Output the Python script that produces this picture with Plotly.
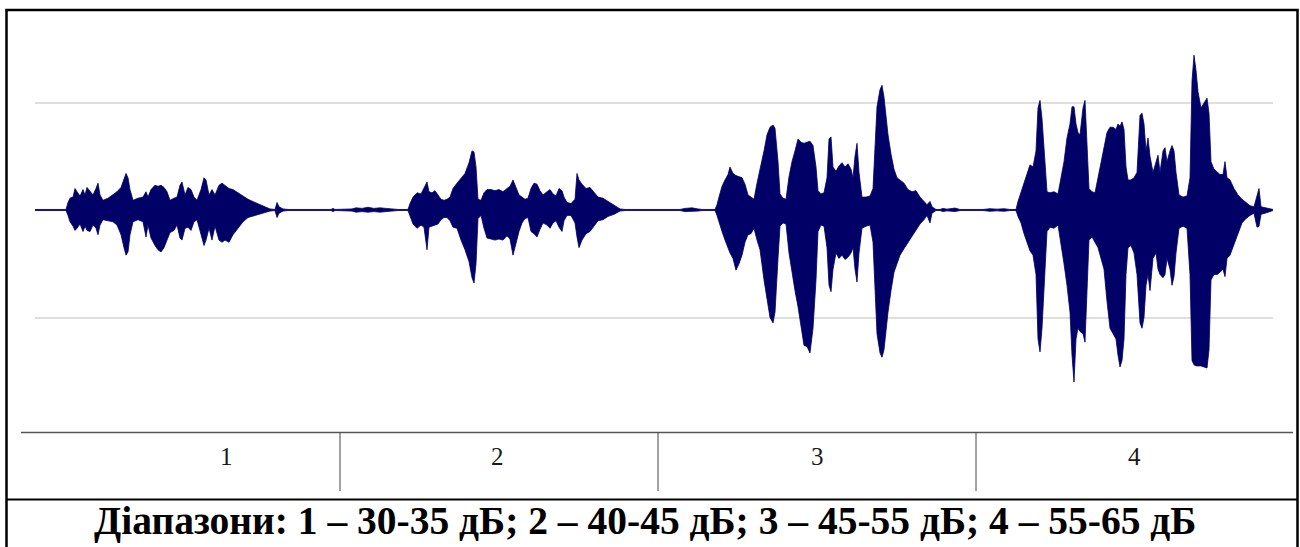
import plotly.graph_objects as go

# ---------------- data: waveform envelope (amplitude, 1.0 = grid line) ----------------
# burst 1 (range 1)
t1 = [0, 31, 33, 35, 38, 40, 42, 45, 48, 50,
      52, 55, 58, 61, 63, 65, 68, 73, 78, 82,
      86, 89, 91, 93, 95, 98, 103, 108, 111, 113,
      116, 120, 123, 126, 129, 132, 135, 139, 142, 145,
      147, 150, 153, 156, 159, 162, 166, 169, 171, 174,
      177, 180, 184, 187, 190, 194, 198, 203, 208, 213,
      220, 227, 235, 240, 242, 244, 248, 253, 296, 298,
      300, 317, 321, 327, 333, 339, 345, 351, 357, 363,
      373]
up1 = [0.005, 0.005, 0.07, 0.11, 0.12, 0.20, 0.17, 0.13, 0.19, 0.14,
       0.21, 0.17, 0.14, 0.20, 0.25, 0.14, 0.09, 0.11, 0.14, 0.17,
       0.21, 0.30, 0.34, 0.30, 0.19, 0.09, 0.11, 0.12, 0.17, 0.12,
       0.19, 0.23, 0.22, 0.23, 0.21, 0.17, 0.09, 0.11, 0.12, 0.23,
       0.26, 0.14, 0.21, 0.19, 0.12, 0.09, 0.19, 0.30, 0.28, 0.14,
       0.19, 0.14, 0.23, 0.25, 0.23, 0.20, 0.19, 0.16, 0.13, 0.10,
       0.07, 0.04, 0.01, 0.005, 0.07, 0.03, 0.01, 0.005, 0.005, 0.015,
       0.005, 0.01, 0.02, 0.015, 0.025, 0.015, 0.02, 0.015, 0.01, 0.005,
       0.005]
lo1 = [-0.005, -0.005, -0.05, -0.11, -0.15, -0.19, -0.17, -0.13, -0.20, -0.15,
       -0.19, -0.20, -0.14, -0.17, -0.23, -0.14, -0.09, -0.10, -0.11, -0.14,
       -0.23, -0.35, -0.42, -0.39, -0.23, -0.11, -0.09, -0.11, -0.25, -0.14,
       -0.26, -0.33, -0.37, -0.39, -0.35, -0.28, -0.21, -0.19, -0.14, -0.26,
       -0.28, -0.17, -0.16, -0.19, -0.11, -0.09, -0.23, -0.33, -0.28, -0.17,
       -0.28, -0.15, -0.28, -0.30, -0.28, -0.30, -0.23, -0.17, -0.11, -0.07,
       -0.05, -0.03, -0.01, -0.005, -0.07, -0.03, -0.01, -0.005, -0.005, -0.015,
       -0.005, -0.01, -0.02, -0.015, -0.02, -0.015, -0.02, -0.015, -0.01, -0.005,
       -0.005]

# burst 2 (range 2)
t2 = [375, 378, 382, 386, 389, 392, 394, 397, 400, 403,
      406, 409, 412, 415, 418, 422, 426, 430, 434, 437,
      439, 441, 443, 446, 449, 452, 456, 460, 464, 468,
      472, 475, 478, 481, 484, 487, 490, 493, 496, 499,
      502, 505, 508, 512, 515, 518, 521, 524, 527, 529,
      532, 536, 540, 542, 544, 547, 551, 555, 559, 563,
      568, 573, 579, 585, 590, 599, 602, 605, 628, 630,
      633, 645, 650, 657, 663, 667, 680]
up2 = [0.06, 0.12, 0.16, 0.15, 0.20, 0.26, 0.17, 0.16, 0.18, 0.14,
       0.10, 0.09, 0.10, 0.12, 0.20, 0.25, 0.30, 0.34, 0.44, 0.55,
       0.54, 0.40, 0.10, 0.09, 0.16, 0.19, 0.19, 0.18, 0.19, 0.17,
       0.20, 0.22, 0.28, 0.20, 0.14, 0.12, 0.10, 0.11, 0.20, 0.25,
       0.24, 0.18, 0.14, 0.17, 0.19, 0.15, 0.13, 0.20, 0.18, 0.12,
       0.07, 0.06, 0.10, 0.34, 0.28, 0.24, 0.20, 0.21, 0.17, 0.12,
       0.11, 0.08, 0.05, 0.01, 0.005, 0.005, 0.012, 0.005, 0.005, 0.012,
       0.005, 0.005, 0.015, 0.02, 0.01, 0.005, 0.005]
lo2 = [-0.05, -0.13, -0.17, -0.14, -0.16, -0.37, -0.16, -0.15, -0.14, -0.13,
       -0.09, -0.07, -0.07, -0.10, -0.16, -0.17, -0.28, -0.37, -0.48, -0.63,
       -0.68, -0.50, -0.08, -0.05, -0.17, -0.26, -0.27, -0.28, -0.27, -0.28,
       -0.24, -0.27, -0.42, -0.30, -0.20, -0.12, -0.08, -0.07, -0.20, -0.22,
       -0.25, -0.18, -0.12, -0.14, -0.17, -0.12, -0.10, -0.16, -0.20, -0.10,
       -0.05, -0.05, -0.12, -0.25, -0.35, -0.28, -0.22, -0.20, -0.15, -0.10,
       -0.09, -0.06, -0.04, -0.01, -0.005, -0.005, -0.012, -0.005, -0.005, -0.012,
       -0.005, -0.005, -0.015, -0.015, -0.01, -0.005, -0.005]

# burst 3 (range 3)
t3 = [682, 684, 687, 690, 693, 695, 698, 701, 704, 707,
      710, 713, 716, 719, 722, 725, 729, 732, 735, 738,
      740, 743, 745, 748, 751, 754, 757, 760, 763, 766,
      769, 772, 775, 778, 781, 783, 786, 789, 792, 794,
      796, 798, 801, 804, 807, 810, 813, 816, 818, 820,
      822, 824, 827, 831, 835, 838, 840, 842, 845, 847,
      849, 851, 853, 856, 859, 862, 865, 869, 873, 877,
      881, 885, 889, 892, 895, 897, 901, 905, 908, 912,
      920, 925, 948, 955, 962, 969, 975, 981]
up3 = [0.05, 0.12, 0.22, 0.28, 0.33, 0.40, 0.34, 0.32, 0.31, 0.30,
       0.24, 0.14, 0.12, 0.10, 0.25, 0.37, 0.55, 0.70, 0.77, 0.79,
       0.76, 0.45, 0.15, 0.11, 0.10, 0.31, 0.45, 0.55, 0.66, 0.63,
       0.62, 0.63, 0.64, 0.60, 0.40, 0.18, 0.15, 0.16, 0.30, 0.66,
       0.68, 0.40, 0.36, 0.41, 0.44, 0.40, 0.43, 0.38, 0.30, 0.50,
       0.62, 0.35, 0.12, 0.12, 0.13, 0.20, 0.60, 0.96, 1.12, 1.16,
       1.05, 0.85, 0.70, 0.52, 0.38, 0.30, 0.28, 0.25, 0.19, 0.17,
       0.18, 0.12, 0.08, 0.05, 0.08, 0.03, 0.005, 0.005, 0.015, 0.008,
       0.018, 0.005, 0.005, 0.012, 0.008, 0.012, 0.005, 0.005]
lo3 = [-0.05, -0.12, -0.20, -0.28, -0.35, -0.40, -0.45, -0.56, -0.50, -0.42,
       -0.30, -0.23, -0.22, -0.17, -0.28, -0.37, -0.65, -0.85, -1.00, -1.05,
       -0.95, -0.45, -0.15, -0.12, -0.13, -0.40, -0.60, -0.75, -0.90, -1.08,
       -1.26, -1.27, -1.33, -1.10, -0.65, -0.20, -0.14, -0.15, -0.35, -0.70,
       -0.76, -0.55, -0.40, -0.45, -0.42, -0.46, -0.44, -0.40, -0.35, -0.55,
       -0.67, -0.40, -0.17, -0.15, -0.14, -0.30, -0.75, -1.15, -1.33, -1.37,
       -1.30, -1.10, -0.95, -0.75, -0.58, -0.50, -0.42, -0.36, -0.30, -0.25,
       -0.18, -0.13, -0.09, -0.05, -0.12, -0.03, -0.005, -0.005, -0.015, -0.008,
       -0.015, -0.005, -0.005, -0.012, -0.008, -0.012, -0.005, -0.005]

# burst 4 (range 4)
t4 = [983, 986, 989, 992, 995, 998, 1001, 1003, 1005, 1007,
      1009, 1012, 1015, 1019, 1023, 1026, 1029, 1032, 1035, 1037,
      1039, 1041, 1043, 1045, 1048, 1050, 1052, 1054, 1057, 1060,
      1063, 1066, 1069, 1072, 1075, 1078, 1081, 1083, 1085, 1087,
      1089, 1091, 1093, 1096, 1099, 1102, 1105, 1107, 1109, 1111,
      1113, 1115, 1118, 1121, 1123, 1125, 1128, 1130, 1132, 1135,
      1137, 1139, 1141, 1144, 1148, 1152, 1155, 1157, 1159, 1161,
      1163, 1166, 1169, 1172, 1174, 1176, 1179, 1182, 1185, 1188,
      1190, 1192, 1195, 1199, 1203, 1207, 1211, 1215, 1219, 1222,
      1224, 1226, 1230, 1235, 1238]
up4 = [0.08, 0.16, 0.24, 0.33, 0.42, 0.40, 0.55, 0.95, 1.02, 0.85,
       0.55, 0.17, 0.16, 0.17, 0.15, 0.30, 0.45, 0.67, 0.80, 0.96,
       0.96, 0.80, 0.72, 0.70, 0.95, 1.02, 0.60, 0.20, 0.17, 0.16,
       0.30, 0.45, 0.60, 0.72, 0.77, 0.77, 0.75, 0.80, 0.78, 0.82,
       0.75, 0.40, 0.28, 0.28, 0.30, 0.35, 0.88, 0.90, 0.80, 0.55,
       0.67, 0.50, 0.35, 0.45, 0.51, 0.35, 0.55, 0.58, 0.45, 0.55,
       0.60, 0.55, 0.35, 0.14, 0.12, 0.13, 0.30, 1.20, 1.44, 1.30,
       1.10, 0.95, 1.00, 1.04, 0.90, 0.45, 0.38, 0.35, 0.33, 0.33,
       0.45, 0.30, 0.28, 0.20, 0.14, 0.10, 0.07, 0.04, 0.03, 0.15,
       0.20, 0.03, 0.02, 0.01, 0.005]
lo4 = [-0.06, -0.12, -0.22, -0.30, -0.38, -0.42, -0.60, -1.20, -1.32, -1.10,
       -0.70, -0.20, -0.16, -0.17, -0.14, -0.30, -0.50, -0.70, -0.95, -1.35,
       -1.60, -1.20, -1.10, -1.13, -1.15, -1.23, -0.70, -0.28, -0.25, -0.30,
       -0.35, -0.45, -0.55, -0.85, -1.10, -1.15, -1.20, -1.35, -1.46, -1.40,
       -1.20, -0.60, -0.35, -0.33, -0.40, -0.60, -1.05, -1.10, -1.00, -0.70,
       -0.60, -0.75, -0.45, -0.40, -0.55, -0.60, -0.63, -0.60, -0.45, -0.55,
       -0.70, -0.62, -0.40, -0.17, -0.15, -0.17, -0.60, -1.40, -1.44, -1.45,
       -1.45, -1.45, -1.46, -1.47, -1.30, -0.65, -0.60, -0.60, -0.58, -0.55,
       -0.62, -0.45, -0.42, -0.32, -0.22, -0.12, -0.08, -0.05, -0.03, -0.16,
       -0.15, -0.04, -0.03, -0.015, -0.005]

range_labels = ["1", "2", "3", "4"]
caption = "Діапазони: 1 – 30-35 дБ; 2 – 40-45 дБ; 3 – 45-55 дБ; 4 – 55-65 дБ"

for a, b, c in [(t1, up1, lo1), (t2, up2, lo2), (t3, up3, lo3), (t4, up4, lo4)]:
    assert len(a) == len(b) == len(c), (len(a), len(b), len(c))

t = t1 + t2 + t3 + t4
upper = up1 + up2 + up3 + up4
lower = lo1 + lo2 + lo3 + lo4

# ---------------- styling / layout ----------------
W, H = 1300, 547
WAVE = "#000066"


def px(x):
    return x / W


def py(y):
    return 1 - y / H


fig = go.Figure()
fig.add_trace(go.Scatter(x=t, y=upper, mode="lines",
                         line=dict(color=WAVE, width=0.8),
                         hoverinfo="skip", showlegend=False))
fig.add_trace(go.Scatter(x=t, y=lower, mode="lines",
                         line=dict(color=WAVE, width=0.8),
                         fill="tonexty", fillcolor=WAVE,
                         hoverinfo="skip", showlegend=False))

plot_top, plot_bot, centre, unit = 20, 420, 210, 107.5

fig.update_layout(
    width=W, height=H,
    margin=dict(l=0, r=0, t=0, b=0),
    paper_bgcolor="white", plot_bgcolor="white",
    showlegend=False,
    xaxis=dict(domain=[px(35), px(1273)], range=[0, 1238],
               showgrid=False, zeroline=False, showline=False,
               showticklabels=False, ticks=""),
    yaxis=dict(domain=[py(plot_bot), py(plot_top)],
               range=[-(plot_bot - centre) / unit, (centre - plot_top) / unit],
               tickvals=[-1, 0, 1], showgrid=True, gridcolor="#dedede",
               gridwidth=2, zeroline=False, showline=False,
               showticklabels=False, ticks=""),
)

shapes = []
# outer frame
shapes.append(dict(type="rect", xref="paper", yref="paper",
                   x0=px(6.5), x1=px(1297.5), y0=py(560), y1=py(10),
                   line=dict(color="black", width=2.5), fillcolor="rgba(0,0,0,0)",
                   layer="above"))
# caption separator
shapes.append(dict(type="line", xref="paper", yref="paper",
                   x0=px(6.5), x1=px(1297.5), y0=py(499.5), y1=py(499.5),
                   line=dict(color="black", width=2)))
# table header line
shapes.append(dict(type="line", xref="paper", yref="paper",
                   x0=px(21), x1=px(1293), y0=py(432.5), y1=py(432.5),
                   line=dict(color="#555555", width=1.3)))
for xv in [340, 658, 976]:
    shapes.append(dict(type="line", xref="paper", yref="paper",
                       x0=px(xv), x1=px(xv), y0=py(432.5), y1=py(491),
                       line=dict(color="#444444", width=1)))
fig.update_layout(shapes=shapes)

annotations = []
for lab, xv in zip(range_labels, [226, 497, 817, 1134]):
    annotations.append(dict(text=lab, xref="paper", yref="paper",
                            x=px(xv), y=py(456), xanchor="center", yanchor="middle",
                            showarrow=False,
                            font=dict(family="Liberation Serif", size=25, color="#1a1a1a")))
annotations.append(dict(text=caption, xref="paper", yref="paper",
                        x=px(645), y=py(521), xanchor="center", yanchor="middle",
                        showarrow=False,
                        font=dict(family="Liberation Serif", size=39.5, color="black",
                                  weight="bold")))
fig.update_layout(annotations=annotations)

fig.write_html("out.html",
               config={"displayModeBar": False},
               post_script="document.body.style.margin='0';document.body.style.padding='0';")
